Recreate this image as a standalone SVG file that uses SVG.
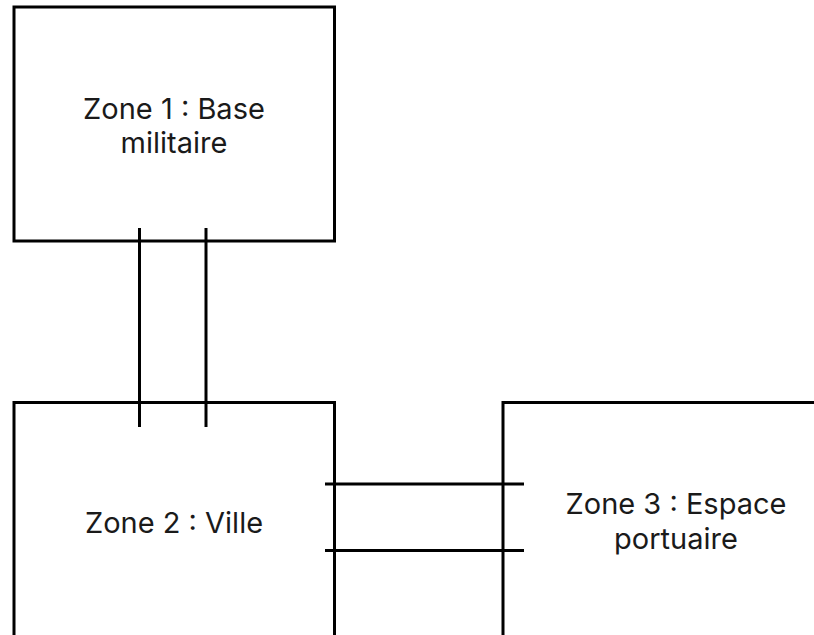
<svg xmlns="http://www.w3.org/2000/svg" width="814" height="635" viewBox="0 0 814 635">
<style>
.box{fill:#fff;stroke:#000;stroke-width:3}
.ln{stroke:#000;stroke-width:3;fill:none}
.t{font-family:Inter,"Noto Sans",sans-serif;font-size:29px;fill:#1a1a1a;text-anchor:middle}
</style>
<rect width="814" height="635" fill="#fff"/>
<g id="zone1"><rect class="box" x="14" y="7" width="320.5" height="234"/>
<text class="t" x="174" y="118.5">Zone 1 : Base</text><text class="t" x="174" y="153">militaire</text></g>
<g id="zone2"><rect class="box" x="14" y="402.5" width="320.5" height="234"/>
<text class="t" x="174" y="532.5">Zone 2 : Ville</text></g>
<g id="zone3"><rect class="box" x="503" y="402.5" width="320" height="234"/>
<text class="t" x="676" y="513.5">Zone 3 : Espace</text><text class="t" x="676" y="549">portuaire</text></g>
<g id="connectors">
<line class="ln" x1="139.5" y1="228" x2="139.5" y2="427"/>
<line class="ln" x1="206" y1="228" x2="206" y2="427"/>
<line class="ln" x1="325" y1="484" x2="524" y2="484"/>
<line class="ln" x1="325" y1="550.5" x2="524" y2="550.5"/>
</g>
</svg>
